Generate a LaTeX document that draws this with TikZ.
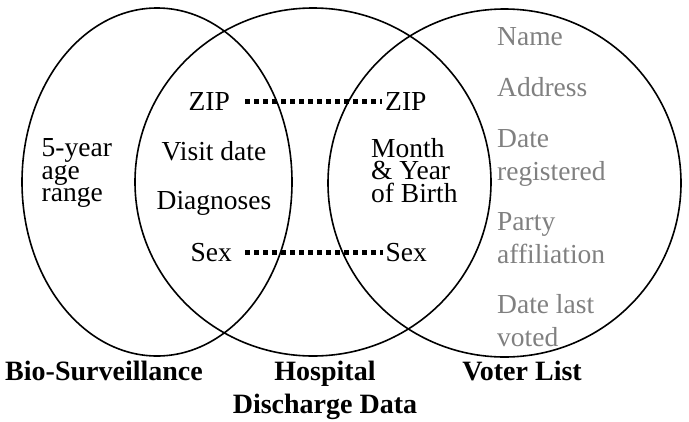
\documentclass[tikz,border=0pt]{standalone}
\usepackage{fontspec}
\setmainfont{Liberation Serif}
\begin{document}
\begin{tikzpicture}[x=1pt,y=-1pt,line join=round,font=\fontsize{27.5}{22.5}\selectfont,
		every node/.style={inner sep=0pt},
		dotline/.style={line width=5pt,dash pattern=on 5pt off 4pt},
		grey/.style={text=black!50,anchor=base west},
		title/.style={font=\fontsize{28}{33}\selectfont\bfseries,anchor=base}]
				\useasboundingbox (0,0) rectangle (689,421);
				% the three data sets
				\draw[line width=1.6pt] (157,182) ellipse [x radius=135pt,y radius=174pt];
				\draw[line width=1.6pt] (313,182) ellipse [x radius=178pt,y radius=174pt];
				\draw[line width=1.6pt] (504.5,183) ellipse [x radius=176.5pt,y radius=174pt];
				% bio-surveillance
				\node[anchor=base west,align=left] (age) at (41.5,201.5) {5-year\\age\\range};
				% hospital discharge
				\node[anchor=base east] (zipH) at (230,110) {ZIP};
				\node[anchor=base] (visit) at (214,160) {Visit date};
				\node[anchor=base] (diag) at (214,209) {Diagnoses};
				\node[anchor=base east] (sexH) at (232,261.5) {Sex};
				\node[anchor=base west] (zipV) at (385,110) {ZIP};
				\node[anchor=base west,align=left] (birth) at (371,202) {Month\\\&~Year\\of Birth};
				\node[anchor=base west] (sexV) at (385.5,261.5) {Sex};
				% voter list
				\node[grey] (name) at (497,45) {Name};
				\node[grey] (addr) at (497,96) {Address};
				\node[grey] (reg) at (497,147) {Date};
				\node[grey] at (497,180) {registered};
				\node[grey] (party) at (497,230) {Party};
				\node[grey] at (497,263) {affiliation};
				\node[grey] (voted) at (497,313) {Date last};
				\node[grey] at (497,346) {voted};
				% linking fields
				\draw[dotline,shorten <=15pt,shorten >=3pt] (zipH.east) -- (zipV.west);
				\draw[dotline,shorten <=13pt,shorten >=3pt] (sexH.east) -- (sexV.west);
				% titles
				\node[title] (bio) at (104,380) {Bio-Surveillance};
				\node[title,align=center] (hosp) at (325,413) {Hospital\\Discharge Data};
				\node[title] (voter) at (522,380) {Voter List};
\end{tikzpicture}
\end{document}
